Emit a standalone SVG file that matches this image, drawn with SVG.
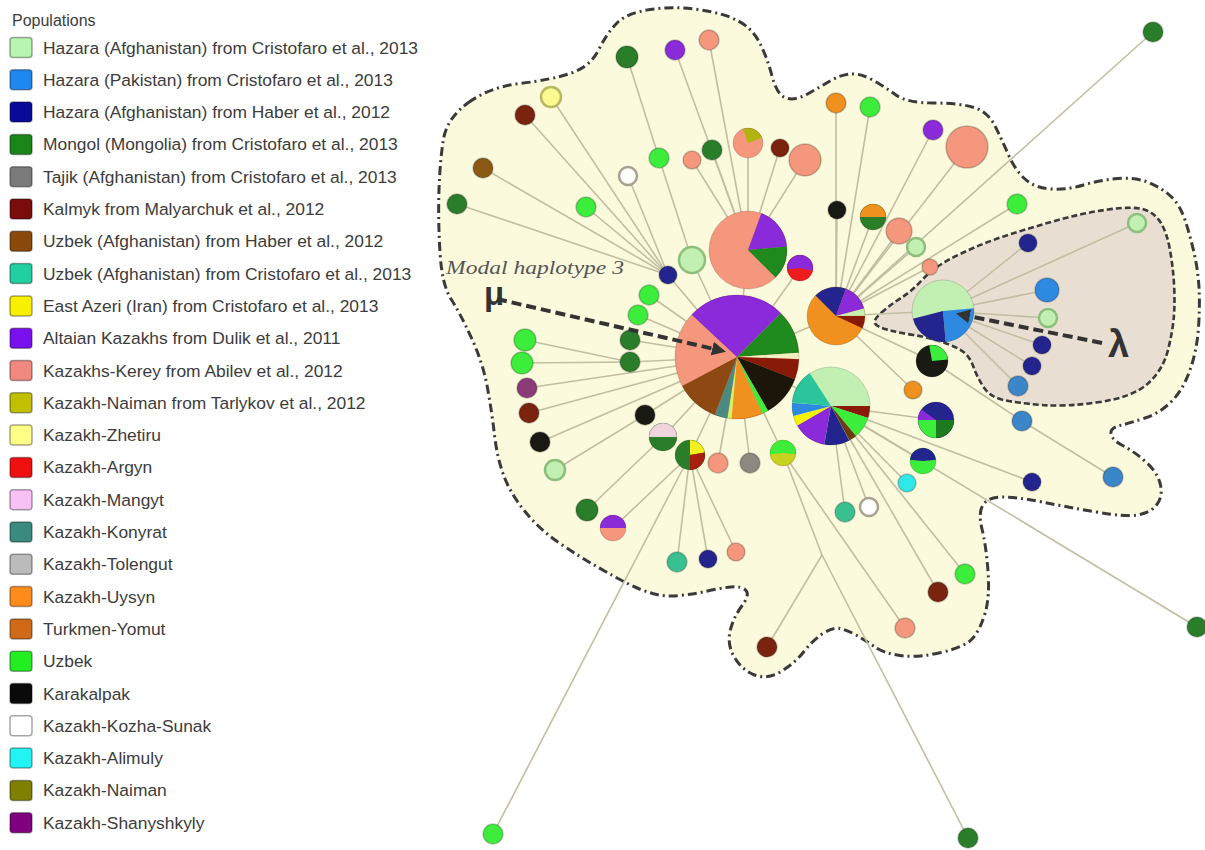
<svg xmlns="http://www.w3.org/2000/svg" width="1205" height="850" viewBox="0 0 1205 850">
<defs>
<style>
text{font-family:"Liberation Sans",Arial,sans-serif}
.lg text{font-size:17.4px;fill:#3c3c3c}
.sw{stroke:rgba(0,0,0,0.35);stroke-width:1.5}
.blob{fill:#fcfadd;stroke:#3a3a3a;stroke-width:3;stroke-dasharray:9 4 2 4}
.inner{fill:#e8dfd2;stroke:#3a3a3a;stroke-width:2.6;stroke-dasharray:6 3}
.e{stroke:#c2bea2;stroke-width:1.6;fill:none}
.n{stroke:rgba(0,0,0,0.22);stroke-width:1.5}
.sl{fill:none}
.rim{fill:none;stroke:rgba(0,0,0,0.15);stroke-width:1}
.ns{fill:#f4977c}.ng{fill:#2a7e2a}.nb{fill:#3ced3c}.nr{fill:#7a2410}.np{fill:#8a2ad8}
.nl{fill:#c2f0b2;stroke:#8cbf7c;stroke-width:2.5}
.nd{fill:#24248e}.nu{fill:#2e8ae0}.nm{fill:#3a86c8}.no{fill:#f0901e}.nk{fill:#1a1a14}
.nw{fill:#ffffff;stroke:#a8a290;stroke-width:2.5}
.nt{fill:#38c090}.nc{fill:#30e8e8}.ny{fill:#8a8a80}.nn{fill:#8a5a14}
.nz{fill:#fafa90;stroke:#b8b860;stroke-width:2.5}.nh{fill:#8b3a78}
.arr{stroke:#333;stroke-width:4;stroke-dasharray:10 5;fill:none}
.greek{font-weight:bold;fill:#333}
.modal{font-family:"Liberation Serif","Times New Roman",serif;font-style:italic;font-size:19px;fill:#555}
</style>
<marker id="ah" viewBox="0 0 4 4" markerWidth="3.5" markerHeight="3.5" refX="0.5" refY="2" orient="auto"><path d="M0,0 L4,2 L0,4 Z" fill="#333"/></marker>
</defs>
<rect width="1205" height="850" fill="#ffffff"/>

<g id="legend" class="lg">
<text x="12" y="26" style="font-size:16px">Populations</text>
<g id="leg-1" transform="translate(0,47.5)"><rect class="sw" x="10" y="-10" width="22" height="20" rx="3" fill="#b8f5b0"/><text x="43" y="6">Hazara (Afghanistan) from Cristofaro et al., 2013</text></g>
<g id="leg-2" transform="translate(0,79.8)"><rect class="sw" x="10" y="-10" width="22" height="20" rx="3" fill="#1f87f0"/><text x="43" y="6">Hazara (Pakistan) from Cristofaro et al., 2013</text></g>
<g id="leg-3" transform="translate(0,112.1)"><rect class="sw" x="10" y="-10" width="22" height="20" rx="3" fill="#0a0a9a"/><text x="43" y="6">Hazara (Afghanistan) from Haber et al., 2012</text></g>
<g id="leg-4" transform="translate(0,144.4)"><rect class="sw" x="10" y="-10" width="22" height="20" rx="3" fill="#1a861a"/><text x="43" y="6">Mongol (Mongolia) from Cristofaro et al., 2013</text></g>
<g id="leg-5" transform="translate(0,176.7)"><rect class="sw" x="10" y="-10" width="22" height="20" rx="3" fill="#7a7a7a"/><text x="43" y="6">Tajik (Afghanistan) from Cristofaro et al., 2013</text></g>
<g id="leg-6" transform="translate(0,209)"><rect class="sw" x="10" y="-10" width="22" height="20" rx="3" fill="#7a0c0c"/><text x="43" y="6">Kalmyk from Malyarchuk et al., 2012</text></g>
<g id="leg-7" transform="translate(0,241.3)"><rect class="sw" x="10" y="-10" width="22" height="20" rx="3" fill="#8a4a0c"/><text x="43" y="6">Uzbek (Afghanistan) from Haber et al., 2012</text></g>
<g id="leg-8" transform="translate(0,273.6)"><rect class="sw" x="10" y="-10" width="22" height="20" rx="3" fill="#20d0a0"/><text x="43" y="6">Uzbek (Afghanistan) from Cristofaro et al., 2013</text></g>
<g id="leg-9" transform="translate(0,305.9)"><rect class="sw" x="10" y="-10" width="22" height="20" rx="3" fill="#f8f000"/><text x="43" y="6">East Azeri (Iran) from Cristofaro et al., 2013</text></g>
<g id="leg-10" transform="translate(0,338.2)"><rect class="sw" x="10" y="-10" width="22" height="20" rx="3" fill="#7a10f0"/><text x="43" y="6">Altaian Kazakhs from Dulik et al., 2011</text></g>
<g id="leg-11" transform="translate(0,370.5)"><rect class="sw" x="10" y="-10" width="22" height="20" rx="3" fill="#f08880"/><text x="43" y="6">Kazakhs-Kerey from Abilev et al., 2012</text></g>
<g id="leg-12" transform="translate(0,402.8)"><rect class="sw" x="10" y="-10" width="22" height="20" rx="3" fill="#c0c000"/><text x="43" y="6">Kazakh-Naiman from Tarlykov et al., 2012</text></g>
<g id="leg-13" transform="translate(0,435.1)"><rect class="sw" x="10" y="-10" width="22" height="20" rx="3" fill="#ffff88"/><text x="43" y="6">Kazakh-Zhetiru</text></g>
<g id="leg-14" transform="translate(0,467.4)"><rect class="sw" x="10" y="-10" width="22" height="20" rx="3" fill="#ee1010"/><text x="43" y="6">Kazakh-Argyn</text></g>
<g id="leg-15" transform="translate(0,499.7)"><rect class="sw" x="10" y="-10" width="22" height="20" rx="3" fill="#f8c0f4"/><text x="43" y="6">Kazakh-Mangyt</text></g>
<g id="leg-16" transform="translate(0,532)"><rect class="sw" x="10" y="-10" width="22" height="20" rx="3" fill="#3a8a80"/><text x="43" y="6">Kazakh-Konyrat</text></g>
<g id="leg-17" transform="translate(0,564.3)"><rect class="sw" x="10" y="-10" width="22" height="20" rx="3" fill="#bbbbbb"/><text x="43" y="6">Kazakh-Tolengut</text></g>
<g id="leg-18" transform="translate(0,596.6)"><rect class="sw" x="10" y="-10" width="22" height="20" rx="3" fill="#ff8c1a"/><text x="43" y="6">Kazakh-Uysyn</text></g>
<g id="leg-19" transform="translate(0,628.9)"><rect class="sw" x="10" y="-10" width="22" height="20" rx="3" fill="#d06a18"/><text x="43" y="6">Turkmen-Yomut</text></g>
<g id="leg-20" transform="translate(0,661.2)"><rect class="sw" x="10" y="-10" width="22" height="20" rx="3" fill="#22ee22"/><text x="43" y="6">Uzbek</text></g>
<g id="leg-21" transform="translate(0,693.5)"><rect class="sw" x="10" y="-10" width="22" height="20" rx="3" fill="#0a0a0a"/><text x="43" y="6">Karakalpak</text></g>
<g id="leg-22" transform="translate(0,725.8)"><rect class="sw" x="10" y="-10" width="22" height="20" rx="3" fill="#ffffff"/><text x="43" y="6">Kazakh-Kozha-Sunak</text></g>
<g id="leg-23" transform="translate(0,758.1)"><rect class="sw" x="10" y="-10" width="22" height="20" rx="3" fill="#22f4f4"/><text x="43" y="6">Kazakh-Alimuly</text></g>
<g id="leg-24" transform="translate(0,790.4)"><rect class="sw" x="10" y="-10" width="22" height="20" rx="3" fill="#808000"/><text x="43" y="6">Kazakh-Naiman</text></g>
<g id="leg-25" transform="translate(0,822.7)"><rect class="sw" x="10" y="-10" width="22" height="20" rx="3" fill="#800080"/><text x="43" y="6">Kazakh-Shanyshkyly</text></g>
</g>

<g id="regions">
<path id="region-outer" class="blob" d="M 468.5,102.5 Q 490,87 520,83.5 Q 550,80 570,73.5 Q 590,67 598.5,50 Q 607,33 617,23 Q 627,13 650,9.5 Q 673,6 698,9.5 Q 723,13 737.5,20.5 Q 752,28 759.5,42.5 Q 767,57 772,76 Q 777,95 786,98 Q 795,101 807.5,94 Q 820,87 830,81 Q 840,75 850,74 Q 860,73 872.5,80 Q 885,87 896,95 Q 907,103 933.5,103 Q 960,103 974,107.5 Q 988,112 995,126 Q 1002,140 1008.5,155 Q 1015,170 1025,179 Q 1035,188 1051,189 Q 1067,190 1083.5,185 Q 1100,180 1117.5,178.5 Q 1135,177 1148.5,182.5 Q 1162,188 1171,196.5 Q 1180,205 1185,220 Q 1190,235 1194,252.5 Q 1198,270 1199,287.5 Q 1200,305 1198.5,327.5 Q 1197,350 1190,370 Q 1183,390 1171.5,401.5 Q 1160,413 1145,418 Q 1130,423 1120,425.5 Q 1110,428 1111,434 Q 1112,440 1123.5,446 Q 1135,452 1146.5,462.5 Q 1158,473 1160.5,485 Q 1163,497 1156.5,505 Q 1150,513 1137.5,515 Q 1125,517 1096,512 Q 1067,507 1042,502 Q 1017,497 1002.5,497 Q 988,497 983,505 Q 978,513 982,529 Q 986,545 988,571 Q 990,597 985,613.5 Q 980,630 972.5,638.5 Q 965,647 941,652.5 Q 917,658 900,655.5 Q 883,653 874,646.5 Q 865,640 856,635 Q 847,630 840,628.5 Q 833,627 823,633.5 Q 813,640 804,651.5 Q 795,663 781,671.5 Q 767,680 754.5,675 Q 742,670 734.5,657.5 Q 727,645 730,631.5 Q 733,618 741.5,606.5 Q 750,595 746,590.5 Q 742,586 731,587 Q 720,588 707.5,591 Q 695,594 680,595.5 Q 665,597 652.5,593.5 Q 640,590 627.5,583.5 Q 615,577 597.5,567 Q 580,557 560,543.5 Q 540,530 525,511.5 Q 510,493 503.5,475 Q 497,457 494.5,435 Q 492,413 487.5,388 Q 483,363 471.5,338 Q 460,313 451,299 Q 442,285 440,252.5 Q 438,220 439,190 Q 440,160 443.5,139 Q 447,118 468.5,102.5 Z"/>
<path id="region-lambda" class="inner" d="M 881.5,312.5 Q 890,305 901,298 Q 912,291 923.5,278.5 Q 935,266 959,254.5 Q 983,243 1008,235 Q 1033,227 1058,220 Q 1083,213 1108,209.5 Q 1133,206 1144,209.5 Q 1155,213 1161,223 Q 1167,233 1170,250 Q 1173,267 1174,283.5 Q 1175,300 1174,315 Q 1173,330 1168,350 Q 1163,370 1148,383.5 Q 1133,397 1100,402 Q 1067,407 1042,405 Q 1017,403 1003.5,400 Q 990,397 983.5,387 Q 977,377 973.5,367 Q 970,357 963.5,352 Q 957,347 942,342 Q 927,337 913.5,335 Q 900,333 888.5,330 Q 877,327 875,323.5 Q 873,320 881.5,312.5 Z"/>
</g>

<g id="connectors" class="e">
<line x1="737" y1="357" x2="748" y2="250"/>
<line x1="737" y1="357" x2="836" y2="316"/>
<line x1="737" y1="357" x2="831" y2="406"/>
<line x1="836" y1="316" x2="943" y2="311"/>
<line x1="737" y1="357" x2="668" y2="275"/>
<line x1="668" y1="275" x2="457" y2="204"/>
<line x1="668" y1="275" x2="483" y2="168"/>
<line x1="668" y1="275" x2="525" y2="115"/>
<line x1="668" y1="275" x2="551" y2="97"/>
<line x1="668" y1="275" x2="586" y2="207"/>
<line x1="668" y1="275" x2="628" y2="176"/>
<line x1="737" y1="357" x2="692" y2="260"/>
<line x1="692" y1="260" x2="659" y2="158"/>
<line x1="659" y1="158" x2="627" y2="57"/>
<line x1="748" y1="250" x2="675" y2="50"/>
<line x1="748" y1="250" x2="709" y2="40"/>
<line x1="748" y1="250" x2="692" y2="160"/>
<line x1="748" y1="250" x2="712" y2="150"/>
<line x1="748" y1="250" x2="748" y2="143"/>
<line x1="748" y1="250" x2="780" y2="148"/>
<line x1="748" y1="250" x2="805" y2="160"/>
<line x1="737" y1="357" x2="800" y2="268"/>
<line x1="836" y1="316" x2="836" y2="103"/>
<line x1="836" y1="316" x2="870" y2="107"/>
<line x1="836" y1="316" x2="933" y2="130"/>
<line x1="836" y1="316" x2="967" y2="147"/>
<line x1="836" y1="316" x2="837" y2="210"/>
<line x1="836" y1="316" x2="873" y2="217"/>
<line x1="836" y1="316" x2="899" y2="231"/>
<line x1="836" y1="316" x2="916" y2="247"/>
<line x1="836" y1="316" x2="930" y2="267"/>
<line x1="836" y1="316" x2="1017" y2="204"/>
<line x1="836" y1="316" x2="1153" y2="32"/>
<line x1="836" y1="316" x2="932" y2="361"/>
<line x1="836" y1="316" x2="913" y2="390"/>
<line x1="932" y1="361" x2="1022" y2="421"/>
<line x1="1022" y1="421" x2="1113" y2="477"/>
<line x1="943" y1="311" x2="1028" y2="243"/>
<line x1="943" y1="311" x2="1047" y2="290"/>
<line x1="943" y1="311" x2="1048" y2="318"/>
<line x1="943" y1="311" x2="1042" y2="345"/>
<line x1="943" y1="311" x2="1032" y2="366"/>
<line x1="943" y1="311" x2="1018" y2="386"/>
<line x1="943" y1="311" x2="1137" y2="223"/>
<line x1="831" y1="406" x2="936" y2="420"/>
<line x1="831" y1="406" x2="923" y2="461"/>
<line x1="831" y1="406" x2="907" y2="483"/>
<line x1="831" y1="406" x2="1032" y2="482"/>
<line x1="831" y1="406" x2="1197" y2="627"/>
<line x1="831" y1="406" x2="845" y2="512"/>
<line x1="831" y1="406" x2="869" y2="507"/>
<line x1="831" y1="406" x2="965" y2="574"/>
<line x1="831" y1="406" x2="938" y2="592"/>
<line x1="737" y1="357" x2="783" y2="453"/>
<line x1="783" y1="453" x2="905" y2="628"/>
<line x1="783" y1="453" x2="822" y2="555"/>
<line x1="822" y1="555" x2="767" y2="647"/>
<line x1="822" y1="555" x2="968" y2="838"/>
<line x1="737" y1="357" x2="690" y2="455"/>
<line x1="690" y1="455" x2="677" y2="562"/>
<line x1="690" y1="455" x2="708" y2="559"/>
<line x1="690" y1="455" x2="736" y2="552"/>
<line x1="690" y1="455" x2="493" y2="834"/>
<line x1="690" y1="455" x2="613" y2="528"/>
<line x1="663" y1="437" x2="587" y2="510"/>
<line x1="737" y1="357" x2="663" y2="437"/>
<line x1="737" y1="357" x2="718" y2="463"/>
<line x1="737" y1="357" x2="750" y2="463"/>
<line x1="737" y1="357" x2="630" y2="362"/>
<line x1="630" y1="362" x2="525" y2="340"/>
<line x1="630" y1="362" x2="522" y2="363"/>
<line x1="737" y1="357" x2="630" y2="340"/>
<line x1="737" y1="357" x2="638" y2="315"/>
<line x1="737" y1="357" x2="649" y2="295"/>
<line x1="737" y1="357" x2="527" y2="388"/>
<line x1="737" y1="357" x2="529" y2="413"/>
<line x1="737" y1="357" x2="540" y2="442"/>
<line x1="737" y1="357" x2="645" y2="415"/>
<line x1="645" y1="415" x2="555" y2="470"/>
</g>

<g id="nodes">
<g id="n-far-ne"><circle class="n ng" cx="1153" cy="32" r="10"/></g>
<g id="n-far-e"><circle class="n ng" cx="1197" cy="627" r="10"/></g>
<g id="n-far-s"><circle class="n ng" cx="968" cy="838" r="10"/></g>
<g id="n-far-sw"><circle class="n nb" cx="493" cy="834" r="10"/></g>
<g id="n-a1"><circle class="n ng" cx="627" cy="57" r="11"/></g>
<g id="n-a2"><circle class="n np" cx="675" cy="50" r="10"/></g>
<g id="n-a3"><circle class="n ns" cx="709" cy="40" r="10"/></g>
<g id="n-a4"><circle class="n nz" cx="551" cy="97" r="10"/></g>
<g id="n-a5"><circle class="n nr" cx="525" cy="115" r="10"/></g>
<g id="n-a6"><circle class="n nn" cx="483" cy="168" r="10"/></g>
<g id="n-a7"><circle class="n ng" cx="457" cy="204" r="10"/></g>
<g id="n-a8"><circle class="n nb" cx="586" cy="207" r="10"/></g>
<g id="n-a9"><circle class="n nw" cx="628" cy="176" r="9"/></g>
<g id="n-a10"><circle class="n nb" cx="659" cy="158" r="10"/></g>
<g id="n-a11"><circle class="n ns" cx="692" cy="160" r="9"/></g>
<g id="n-a12"><circle class="n ng" cx="712" cy="150" r="10"/></g>
<g id="n-a13"><circle class="ns" cx="748" cy="143" r="15"/><circle class="sl" cx="748" cy="143" r="7.5" stroke="#b4b410" stroke-width="15" pathLength="100" stroke-dasharray="25 100" transform="rotate(-110 748 143)"/><circle class="rim" cx="748" cy="143" r="15"/></g>
<g id="n-a14"><circle class="n nr" cx="780" cy="148" r="9"/></g>
<g id="n-a15"><circle class="n ns" cx="805" cy="160" r="16"/></g>
<g id="n-a16"><circle class="n nl" cx="692" cy="260" r="13"/></g>
<g id="n-a17"><circle class="n nd" cx="668" cy="275" r="9"/></g>
<g id="n-b1"><circle class="n nb" cx="649" cy="295" r="10"/></g>
<g id="n-b2"><circle class="n nb" cx="638" cy="315" r="10"/></g>
<g id="n-b3"><circle class="n ng" cx="630" cy="340" r="10"/></g>
<g id="n-b4"><circle class="n ng" cx="630" cy="362" r="10"/></g>
<g id="n-b5"><circle class="n nb" cx="525" cy="340" r="11"/></g>
<g id="n-b6"><circle class="n nb" cx="522" cy="363" r="11"/></g>
<g id="n-b7"><circle class="n nh" cx="527" cy="388" r="10"/></g>
<g id="n-b8"><circle class="n nr" cx="529" cy="413" r="10"/></g>
<g id="n-b9"><circle class="n nk" cx="540" cy="442" r="10"/></g>
<g id="n-b10"><circle class="n nl" cx="555" cy="470" r="10"/></g>
<g id="n-b11"><circle class="n nk" cx="645" cy="415" r="10"/></g>
<g id="n-b12"><circle class="ng" cx="663" cy="437" r="14"/><circle class="sl" cx="663" cy="437" r="7" stroke="#f0d4dc" stroke-width="14" pathLength="100" stroke-dasharray="50 100" transform="rotate(180 663 437)"/><circle class="rim" cx="663" cy="437" r="14"/></g>
<g id="n-b13"><circle class="ng" cx="690" cy="455" r="15"/><circle class="sl" cx="690" cy="455" r="7.5" stroke="#f4f020" stroke-width="15" pathLength="100" stroke-dasharray="22.2 100" transform="rotate(-90 690 455)"/><circle class="sl" cx="690" cy="455" r="7.5" stroke="#a82010" stroke-width="15" pathLength="100" stroke-dasharray="27.8 100" transform="rotate(-10 690 455)"/><circle class="rim" cx="690" cy="455" r="15"/></g>
<g id="n-b14"><circle class="n ns" cx="718" cy="463" r="10"/></g>
<g id="n-b15"><circle class="n ny" cx="750" cy="463" r="10"/></g>
<g id="n-b16"><circle style="fill:#c8d020" cx="783" cy="453" r="13"/><circle class="sl" cx="783" cy="453" r="6.5" stroke="#3ced3c" stroke-width="13" pathLength="100" stroke-dasharray="53 100" transform="rotate(175 783 453)"/><circle class="rim" cx="783" cy="453" r="13"/></g>
<g id="n-c1"><circle class="n ng" cx="587" cy="510" r="11"/></g>
<g id="n-c2"><circle class="ns" cx="613" cy="528" r="13"/><circle class="sl" cx="613" cy="528" r="6.5" stroke="#8a2ad8" stroke-width="13" pathLength="100" stroke-dasharray="50 100" transform="rotate(180 613 528)"/><circle class="rim" cx="613" cy="528" r="13"/></g>
<g id="n-c3"><circle class="n nt" cx="677" cy="562" r="10"/></g>
<g id="n-c4"><circle class="n nd" cx="708" cy="559" r="9"/></g>
<g id="n-c5"><circle class="n ns" cx="736" cy="552" r="9"/></g>
<g id="n-c6"><circle class="n nr" cx="767" cy="647" r="10"/></g>
<g id="n-c7"><circle class="n nt" cx="845" cy="512" r="10"/></g>
<g id="n-c8"><circle class="n nw" cx="869" cy="507" r="9"/></g>
<g id="n-c9"><circle class="n nb" cx="965" cy="574" r="10"/></g>
<g id="n-c10"><circle class="n nr" cx="938" cy="592" r="10"/></g>
<g id="n-c11"><circle class="n ns" cx="905" cy="628" r="10"/></g>
<g id="n-d1"><circle class="n nc" cx="907" cy="483" r="9"/></g>
<g id="n-d2"><circle class="nb" cx="923" cy="461" r="13"/><circle class="sl" cx="923" cy="461" r="6.5" stroke="#24248e" stroke-width="13" pathLength="100" stroke-dasharray="47 100" transform="rotate(185 923 461)"/><circle class="rim" cx="923" cy="461" r="13"/></g>
<g id="n-d3"><circle class="nd" cx="936" cy="420" r="18"/><circle class="sl" cx="936" cy="420" r="9" stroke="#1e7a1e" stroke-width="18" pathLength="100" stroke-dasharray="25 100"/><circle class="sl" cx="936" cy="420" r="9" stroke="#3ced3c" stroke-width="18" pathLength="100" stroke-dasharray="25 100" transform="rotate(90 936 420)"/><circle class="sl" cx="936" cy="420" r="9" stroke="#8a2ad8" stroke-width="18" pathLength="100" stroke-dasharray="10 100" transform="rotate(180 936 420)"/><circle class="rim" cx="936" cy="420" r="18"/></g>
<g id="n-d4"><circle class="n no" cx="913" cy="390" r="9"/></g>
<g id="n-d5"><circle class="nk" cx="932" cy="361" r="16"/><circle class="sl" cx="932" cy="361" r="8" stroke="#3ced3c" stroke-width="16" pathLength="100" stroke-dasharray="26.4 100" transform="rotate(-100 932 361)"/><circle class="rim" cx="932" cy="361" r="16"/></g>
<g id="n-d6"><circle style="fill:#ee1c1c" cx="800" cy="268" r="13"/><circle class="sl" cx="800" cy="268" r="6.5" stroke="#8a2ad8" stroke-width="13" pathLength="100" stroke-dasharray="55 100" transform="rotate(175 800 268)"/><circle class="rim" cx="800" cy="268" r="13"/></g>
<g id="n-e1"><circle class="n no" cx="836" cy="103" r="10"/></g>
<g id="n-e2"><circle class="n nb" cx="870" cy="107" r="10"/></g>
<g id="n-e3"><circle class="n np" cx="933" cy="130" r="10"/></g>
<g id="n-e4"><circle class="n ns" cx="967" cy="147" r="21"/></g>
<g id="n-e5"><circle class="n nk" cx="837" cy="210" r="9"/></g>
<g id="n-e6"><circle class="ng" cx="873" cy="217" r="13"/><circle class="sl" cx="873" cy="217" r="6.5" stroke="#f0901e" stroke-width="13" pathLength="100" stroke-dasharray="50 100" transform="rotate(180 873 217)"/><circle class="rim" cx="873" cy="217" r="13"/></g>
<g id="n-e7"><circle class="n ns" cx="899" cy="231" r="13"/></g>
<g id="n-e8"><circle class="n nl" cx="916" cy="247" r="9"/></g>
<g id="n-e9"><circle class="n ns" cx="930" cy="267" r="8"/></g>
<g id="n-e10"><circle class="n nb" cx="1017" cy="204" r="10"/></g>
<g id="n-f1"><circle class="n nd" cx="1028" cy="243" r="9"/></g>
<g id="n-f2"><circle class="n nl" cx="1137" cy="223" r="9"/></g>
<g id="n-f3"><circle class="n nu" cx="1047" cy="290" r="12"/></g>
<g id="n-f4"><circle class="n nl" cx="1048" cy="318" r="9"/></g>
<g id="n-f5"><circle class="n nd" cx="1042" cy="345" r="9"/></g>
<g id="n-f6"><circle class="n nd" cx="1032" cy="366" r="9"/></g>
<g id="n-f7"><circle class="n nm" cx="1018" cy="386" r="10"/></g>
<g id="n-f8"><circle class="n nm" cx="1022" cy="421" r="10"/></g>
<g id="n-f9"><circle class="n nm" cx="1113" cy="477" r="10"/></g>
<g id="n-f10"><circle class="n nd" cx="1032" cy="482" r="9"/></g>

<g id="hub-P2"><circle class="ns" cx="748" cy="250" r="39"/><circle class="sl" cx="748" cy="250" r="19.5" stroke="#8a2ad8" stroke-width="39" pathLength="100" stroke-dasharray="18.06 100" transform="rotate(-70 748 250)"/><circle class="sl" cx="748" cy="250" r="19.5" stroke="#1e8a1e" stroke-width="39" pathLength="100" stroke-dasharray="13.89 100" transform="rotate(-5 748 250)"/><circle class="rim" cx="748" cy="250" r="39"/></g>
<g id="hub-P3"><circle class="no" cx="836" cy="316" r="29"/><circle class="sl" cx="836" cy="316" r="14.5" stroke="#24248e" stroke-width="29" pathLength="100" stroke-dasharray="18.06 100" transform="rotate(-135 836 316)"/><circle class="sl" cx="836" cy="316" r="14.5" stroke="#8a2ad8" stroke-width="29" pathLength="100" stroke-dasharray="15.28 100" transform="rotate(-70 836 316)"/><circle class="sl" cx="836" cy="316" r="14.5" stroke="#c8f0b0" stroke-width="29" pathLength="100" stroke-dasharray="4.17 100" transform="rotate(-15 836 316)"/><circle class="sl" cx="836" cy="316" r="14.5" stroke="#8a1a08" stroke-width="29" pathLength="100" stroke-dasharray="6.94 100"/><circle class="rim" cx="836" cy="316" r="29"/></g>
<g id="hub-P4"><circle style="fill:#c2f0b2" cx="831" cy="406" r="39"/><circle class="sl" cx="831" cy="406" r="19.5" stroke="#8a1a08" stroke-width="39" pathLength="100" stroke-dasharray="5 100"/><circle class="sl" cx="831" cy="406" r="19.5" stroke="#3ced3c" stroke-width="39" pathLength="100" stroke-dasharray="8.89 100" transform="rotate(18 831 406)"/><circle class="sl" cx="831" cy="406" r="19.5" stroke="#6a3a10" stroke-width="39" pathLength="100" stroke-dasharray="3.33 100" transform="rotate(50 831 406)"/><circle class="sl" cx="831" cy="406" r="19.5" stroke="#24248e" stroke-width="39" pathLength="100" stroke-dasharray="10.56 100" transform="rotate(62 831 406)"/><circle class="sl" cx="831" cy="406" r="19.5" stroke="#8a2ad8" stroke-width="39" pathLength="100" stroke-dasharray="13.89 100" transform="rotate(100 831 406)"/><circle class="sl" cx="831" cy="406" r="19.5" stroke="#f4f400" stroke-width="39" pathLength="100" stroke-dasharray="4.17 100" transform="rotate(150 831 406)"/><circle class="sl" cx="831" cy="406" r="19.5" stroke="#2e8ae0" stroke-width="39" pathLength="100" stroke-dasharray="5.56 100" transform="rotate(165 831 406)"/><circle class="sl" cx="831" cy="406" r="19.5" stroke="#2cc49a" stroke-width="39" pathLength="100" stroke-dasharray="14.44 100" transform="rotate(185 831 406)"/><circle class="rim" cx="831" cy="406" r="39"/></g>
<g id="hub-P5"><circle style="fill:#c2f0b2" cx="943" cy="311" r="31"/><circle class="sl" cx="943" cy="311" r="15.5" stroke="#2e8ae0" stroke-width="31" pathLength="100" stroke-dasharray="25 100" transform="rotate(-5 943 311)"/><circle class="sl" cx="943" cy="311" r="15.5" stroke="#24248e" stroke-width="31" pathLength="100" stroke-dasharray="22.22 100" transform="rotate(85 943 311)"/><circle class="rim" cx="943" cy="311" r="31"/></g>
<g id="hub-P1"><circle class="ns" cx="737" cy="357" r="62"/><circle class="sl" cx="737" cy="357" r="31" stroke="#8a2ad8" stroke-width="62" pathLength="100" stroke-dasharray="25.56 100" transform="rotate(-137 737 357)"/><circle class="sl" cx="737" cy="357" r="31" stroke="#1e8a1e" stroke-width="62" pathLength="100" stroke-dasharray="11.39 100" transform="rotate(-45 737 357)"/><circle class="sl" cx="737" cy="357" r="31" stroke="#f0f0c0" stroke-width="62" pathLength="100" stroke-dasharray="1.67 100" transform="rotate(-4 737 357)"/><circle class="sl" cx="737" cy="357" r="31" stroke="#8a1a08" stroke-width="62" pathLength="100" stroke-dasharray="5.28 100" transform="rotate(2 737 357)"/><circle class="sl" cx="737" cy="357" r="31" stroke="#1c160a" stroke-width="62" pathLength="100" stroke-dasharray="10.83 100" transform="rotate(21 737 357)"/><circle class="sl" cx="737" cy="357" r="31" stroke="#3ced3c" stroke-width="62" pathLength="100" stroke-dasharray="1.67 100" transform="rotate(60 737 357)"/><circle class="sl" cx="737" cy="357" r="31" stroke="#f0901e" stroke-width="62" pathLength="100" stroke-dasharray="8.06 100" transform="rotate(66 737 357)"/><circle class="sl" cx="737" cy="357" r="31" stroke="#d8f060" stroke-width="62" pathLength="100" stroke-dasharray="1.11 100" transform="rotate(95 737 357)"/><circle class="sl" cx="737" cy="357" r="31" stroke="#4a8a80" stroke-width="62" pathLength="100" stroke-dasharray="3.33 100" transform="rotate(99 737 357)"/><circle class="sl" cx="737" cy="357" r="31" stroke="#8c4a12" stroke-width="62" pathLength="100" stroke-dasharray="11.39 100" transform="rotate(111 737 357)"/><circle class="rim" cx="737" cy="357" r="62"/></g>
</g>

<g id="annotations">
<text class="modal" x="446" y="274" textLength="178" lengthAdjust="spacingAndGlyphs">Modal haplotype 3</text>
<text class="greek" x="484" y="305" font-size="33">μ</text>
<line class="arr" x1="497" y1="299" x2="714" y2="349" marker-end="url(#ah)"/>
<text class="greek" x="1108" y="357" font-size="38">λ</text>
<line class="arr" x1="1102" y1="343" x2="968" y2="316" marker-end="url(#ah)"/>
</g>
</svg>
